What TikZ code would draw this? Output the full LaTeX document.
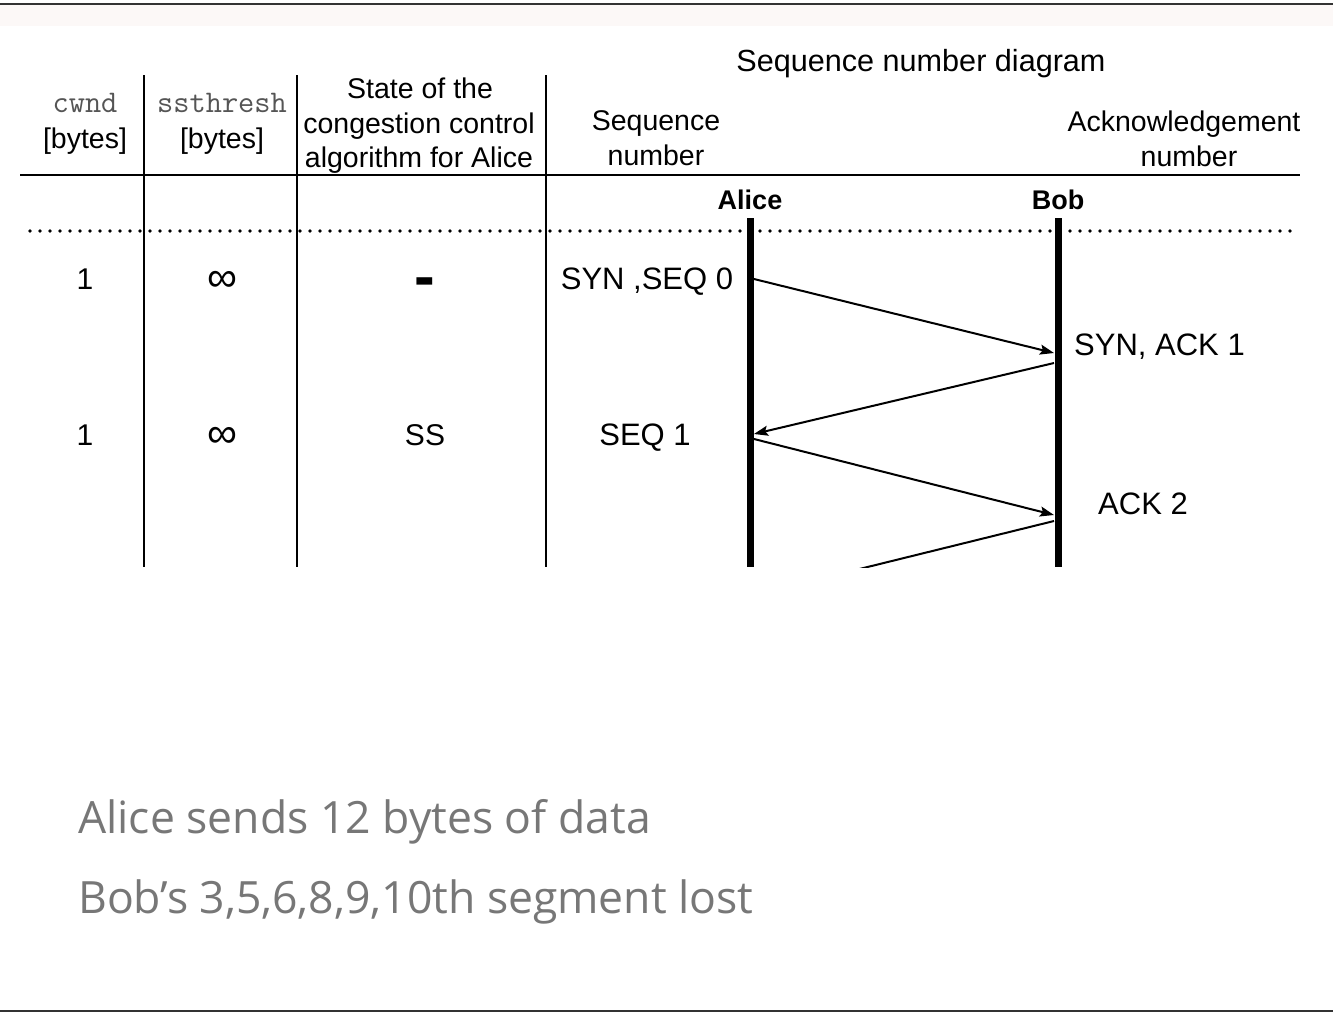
\documentclass[tikz,border=0pt]{standalone}
\usepackage{fontspec}
\setmainfont{Liberation Sans}
\newfontfamily\notefont{Open Sans}
\usetikzlibrary{arrows.meta}
\definecolor{rulecol}{HTML}{333333}
\definecolor{bandcol}{HTML}{FCF8F7}
\definecolor{monogray}{HTML}{555555}
\definecolor{notegray}{HTML}{777777}
\begin{document}
\begin{tikzpicture}[x=1pt,y=-1pt,
  hdr/.style={font=\fontsize{28.5}{34}\selectfont, anchor=base, inner sep=0},
  monohdr/.style={font=\ttfamily\fontsize{31.5}{34}\selectfont, text=monogray, anchor=base, inner sep=0},
  cell/.style={font=\fontsize{30}{36}\selectfont, anchor=base, inner sep=0},
  infty/.style={font=\fontsize{42}{42}\selectfont, anchor=base, inner sep=0},
  msg/.style={font=\fontsize{31}{36}\selectfont, anchor=base, inner sep=0},
  who/.style={font=\bfseries\fontsize{27}{32}\selectfont, anchor=base, inner sep=0},
  grid/.style={line width=2pt},
  life/.style={line width=7pt},
  msgarrow/.style={line width=2pt, -{Stealth[length=14pt,width=10pt,inset=2.5pt]}},
  dots/.style={line width=3.8pt, line cap=round, dash pattern=on 0pt off 10pt},
  note/.style={font=\notefont\fontsize{44.5}{52}\selectfont, text=notegray, anchor=base west, inner sep=0}
]
\useasboundingbox (0,0) rectangle (1333,1015);
\fill[white] (0,0) rectangle (1333,1015);
% page frame
\fill[bandcol] (0,5) rectangle (1333,26);
\draw[rulecol, line width=2pt] (0,4) -- (1333,4);
\draw[rulecol, line width=2pt] (0,1011) -- (1333,1011);

% table rules
\draw[grid] (20,175) -- (1300,175);
\draw[grid] (144,75) -- (144,567);
\draw[grid] (297,75) -- (297,567);
\draw[grid] (546,75) -- (546,567);
\draw[dots] (30,231) -- (1300,231);

% column headings
\node[monohdr] (hcwnd) at (85,112) {cwnd};
\node[hdr] (hcwndu) at (85,148) {[bytes]};
\node[monohdr] (hss) at (222,112) {ssthresh};
\node[hdr] (hssu) at (222,148) {[bytes]};
\node[hdr] (hst1) at (420,98) {State of the};
\node[hdr] (hst2) at (419,133) {congestion control};
\node[hdr] (hst3) at (419,167) {algorithm for Alice};
\node[font=\fontsize{30.6}{36}\selectfont, anchor=base, inner sep=0] (htitle) at (921,71) {Sequence number diagram};
\node[hdr] (hseq1) at (656,130) {Sequence};
\node[hdr] (hseq2) at (656,165) {number};
\node[hdr] (hack1) at (1184,131) {Acknowledgement};
\node[hdr] (hack2) at (1189,166) {number};

% hosts and lifelines
\node[who] (alice) at (750,209) {Alice};
\node[who] (bob) at (1058,209) {Bob};
\coordinate (atop) at (750,218);
\coordinate (abot) at (750,567);
\coordinate (btop) at (1058,218);
\coordinate (bbot) at (1058,567);
\draw[life] (atop) -- (abot);
\draw[life] (btop) -- (bbot);

% first row: connection request
\node[cell] (cw1) at (85,289) {1};
\node[infty] (ss1) at (222,291) {∞};
\node[font=\bfseries\fontsize{62}{62}\selectfont, anchor=base, inner sep=0] (st1) at (425,297) {-};
\node[msg] (m1) at (647,289) {SYN ,SEQ 0};
\node[msg, anchor=base west] (m2) at (1074,355) {SYN, ACK 1};

% second row: slow start
\node[cell] (cw2) at (85,445) {1};
\node[infty] (ss2) at (222,447) {∞};
\node[cell] (st2) at (425,445) {SS};
\node[msg] (m3) at (645,445) {SEQ 1};
\node[msg, anchor=base west] (m4) at (1098,514) {ACK 2};

% segments between the hosts
\coordinate (a1) at (754,279);
\coordinate (b1) at (1054,353);
\coordinate (b2) at (1054,363);
\coordinate (a2) at (754,434);
\coordinate (a3) at (754,439);
\coordinate (b3) at (1054,515);
\coordinate (b4) at (1054,521);
\coordinate (a4) at (754,595);
\draw[msgarrow] (a1) -- (b1);
\draw[msgarrow] (b2) -- (a2);
\draw[msgarrow] (a3) -- (b3);
\begin{scope}
  \clip (0,0) rectangle (1333,567);
  \draw[line width=2pt] (b4) -- (a4);
\end{scope}

% notes
\node[note] (n1) at (78,833) {Alice sends 12 bytes of data};
\node[note] (n2) at (78,913) {Bob’s 3,5,6,8,9,10th segment lost};
\end{tikzpicture}
\end{document}
